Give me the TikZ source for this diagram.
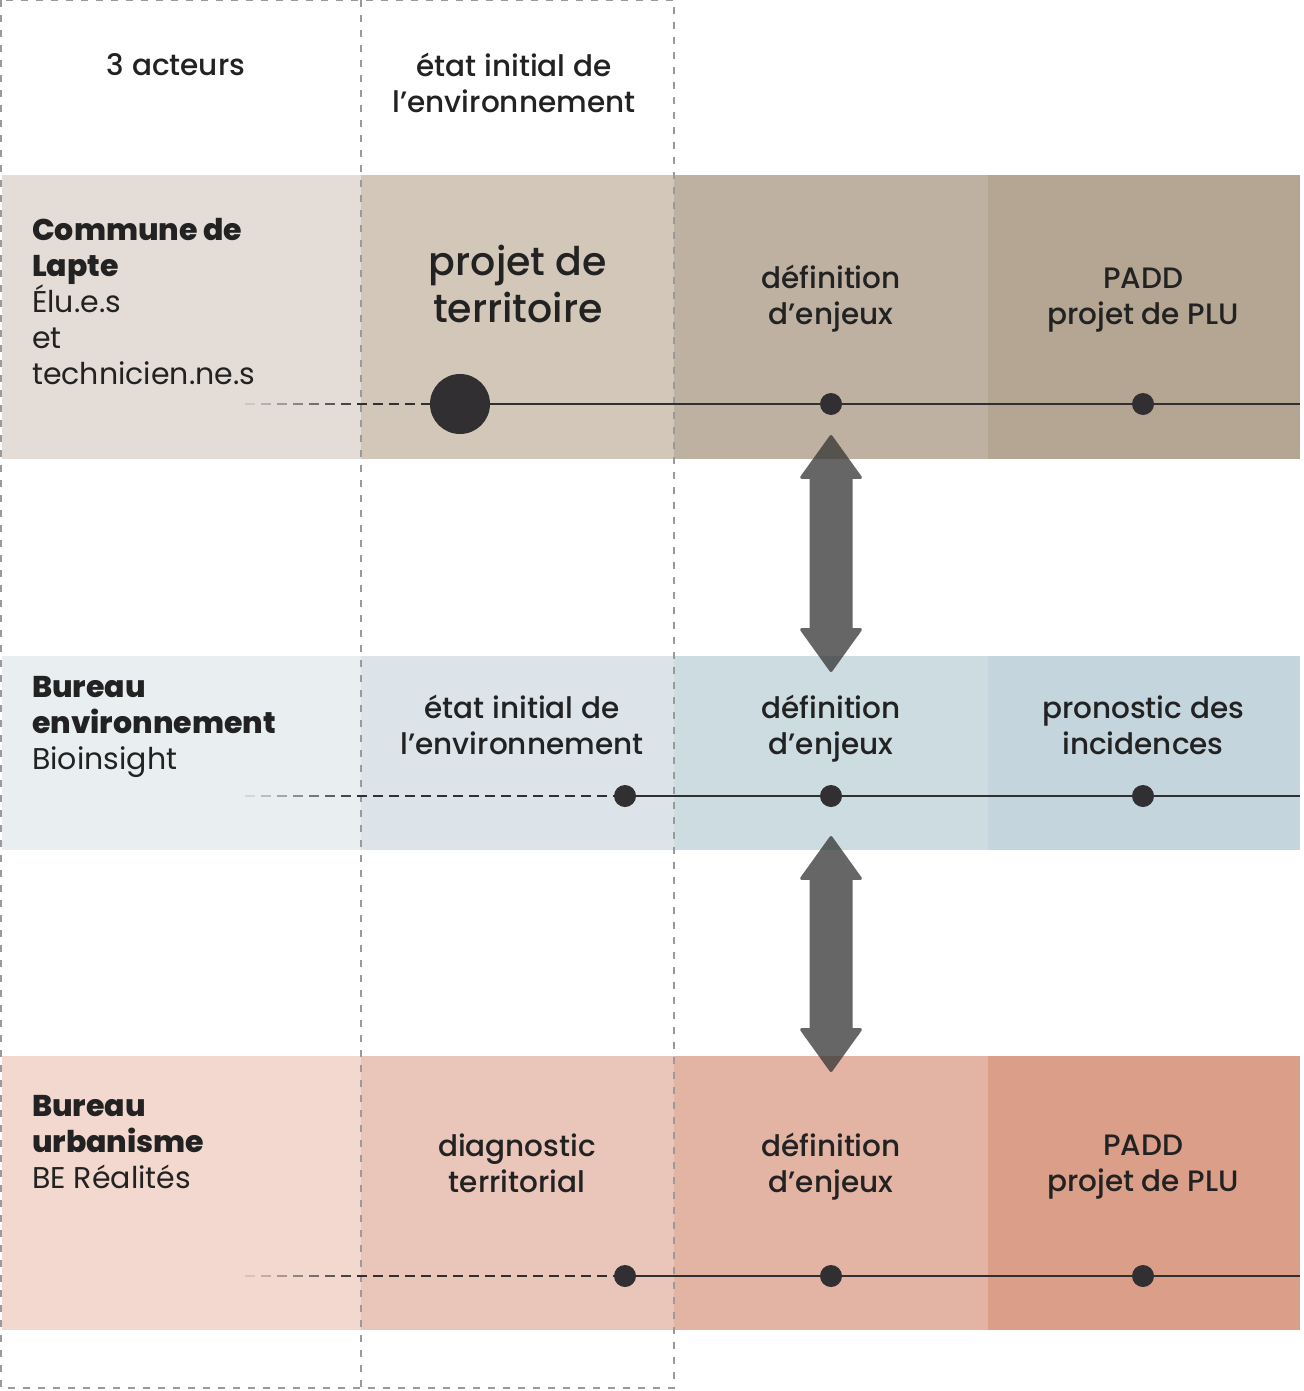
\documentclass[tikz,border=0pt]{standalone}
\usepackage{fontspec}
\setmainfont{Poppins}[BoldFont={Poppins ExtraBold}]
\newfontfamily\medfont{Poppins Medium}
\usetikzlibrary{arrows.meta,calc}

% band colours: one row per actor, darker to the right
\definecolor{ca0}{HTML}{E4DDD7}\definecolor{ca1}{HTML}{D3C7B9}
\definecolor{ca2}{HTML}{BFB1A1}\definecolor{ca3}{HTML}{B5A694}
\definecolor{cb0}{HTML}{E9EEF0}\definecolor{cb1}{HTML}{DCE4EA}
\definecolor{cb2}{HTML}{CCDCE1}\definecolor{cb3}{HTML}{C5D5DE}
\definecolor{cc0}{HTML}{F2D8CE}\definecolor{cc1}{HTML}{EAC5BA}
\definecolor{cc2}{HTML}{E3B3A3}\definecolor{cc3}{HTML}{DB9E89}
\definecolor{ink}{HTML}{222222}
\definecolor{dotc}{HTML}{312F31}
\definecolor{framec}{HTML}{9A9A9A}

\tikzset{
  band/.style={draw=none, inner sep=0pt, outer sep=0pt},
  lbl/.style={text=ink, font=\medfont\fontsize{29.5}{36}\selectfont, align=center, inner sep=0pt},
  big/.style={text=ink, font=\medfont\fontsize{39.5}{47}\selectfont, align=center, inner sep=0pt},
  actor/.style={text=ink, font=\fontsize{30}{36}\selectfont, align=left, anchor=north west, inner sep=0pt},
  frame/.style={draw=framec, line width=1.1pt, dash pattern=on 7pt off 8pt},
  tline/.style={draw=dotc, line width=1.3pt},
  dline/.style={draw=dotc, line width=1.3pt, dash pattern=on 10pt off 6pt},
  bigdot/.style={circle, fill=dotc, minimum size=60pt, inner sep=0pt},
  smalldot/.style={circle, fill=dotc, minimum size=22pt, inner sep=0pt},
  exch/.style={draw=black!80, line width=43pt,
    {Triangle[width=64pt,length=45pt,line width=3pt,round]}-{Triangle[width=64pt,length=45pt,line width=3pt,round]}},
}

% dashed lead-in that fades out to the left, starting at coordinate #1
\newcommand\leadin[1]{%
  \foreach \k in {0,...,6}{%
    \draw[dotc, line width=1.3pt, opacity={(\k+1)/8}] ($(#1)+(\k*16,0)$) -- ++(10,0);
  }}

\begin{document}
\begin{tikzpicture}[x=1pt,y=-1pt]
\useasboundingbox (0,0) rectangle (1303,1391);
\fill[white] (0,0) rectangle (1303,1391);

% ---- bands ----
% row a: Commune de Lapte
\node[band, fill=ca0, minimum width=359pt, minimum height=284pt] (a0) at (181.5,317) {};
\node[band, fill=ca1, minimum width=313pt, minimum height=284pt] (a1) at (517.5,317) {};
\node[band, fill=ca2, minimum width=314pt, minimum height=284pt] (a2) at (831,317) {};
\node[band, fill=ca3, minimum width=312pt, minimum height=284pt] (a3) at (1144,317) {};
% row b: Bureau environnement
\node[band, fill=cb0, minimum width=359pt, minimum height=194pt] (b0) at (181.5,753) {};
\node[band, fill=cb1, minimum width=313pt, minimum height=194pt] (b1) at (517.5,753) {};
\node[band, fill=cb2, minimum width=314pt, minimum height=194pt] (b2) at (831,753) {};
\node[band, fill=cb3, minimum width=312pt, minimum height=194pt] (b3) at (1144,753) {};
% row c: Bureau urbanisme
\node[band, fill=cc0, minimum width=359pt, minimum height=274pt] (c0) at (181.5,1193) {};
\node[band, fill=cc1, minimum width=313pt, minimum height=274pt] (c1) at (517.5,1193) {};
\node[band, fill=cc2, minimum width=314pt, minimum height=274pt] (c2) at (831,1193) {};
\node[band, fill=cc3, minimum width=312pt, minimum height=274pt] (c3) at (1144,1193) {};

% ---- dashed frame of the two first columns ----
\draw[frame] (1,0) -- (1,1388) -- (674,1388) -- (674,0) -- cycle;
\draw[frame] (361,0) -- (361,1388);

% ---- headers ----
\node[lbl] (h0) at (176,65) {3 acteurs};
\node[lbl] (h1) at (514,83) {état initial de\\l’environnement};

% ---- actors ----
\node[actor] (act1) at (32,218) {\textbf{Commune de}\\\textbf{Lapte}\\Élu.e.s\\et\\technicien.ne.s};
\node[actor] (act2) at (32,676) {\textbf{Bureau}\\\textbf{environnement}\\Bioinsight};
\node[actor] (act3) at (32,1095) {\textbf{Bureau}\\\textbf{urbanisme}\\BE Réalités};

% ---- stage labels ----
\node[big] (ta1) at (518,283.5) {projet de\\territoire};
\node[lbl] (ta2) at (831,298.5) {définition\\d’enjeux};
\node[lbl] (ta3) at (1143,300) {PADD\\projet de PLU};
\node[lbl] (tb1) at (522,724.5) {état initial de\\l’environnement};
\node[lbl] (tb2) at (831,728.5) {définition\\d’enjeux};
\node[lbl] (tb3) at (1143,725) {pronostic des\\incidences};
\node[lbl] (tc1) at (517,1163) {diagnostic\\territorial};
\node[lbl] (tc2) at (831,1166.5) {définition\\d’enjeux};
\node[lbl] (tc3) at (1143,1167.5) {PADD\\projet de PLU};

% ---- timelines ----
\node[bigdot] (da1) at (460,404) {};
\node[smalldot] (da2) at (831,404) {};
\node[smalldot] (da3) at (1143,404) {};
\coordinate (sa) at (245,404);
\coordinate (ma) at (357,404);
\coordinate (ea) at (1300,404);
\leadin{sa}
\draw[dline] (ma) -- (da1.west);
\draw[tline] (da1.east) -- (da2) -- (da3) -- (ea);

\node[smalldot] (db1) at (625,796) {};
\node[smalldot] (db2) at (831,796) {};
\node[smalldot] (db3) at (1143,796) {};
\coordinate (sb) at (245,796);
\coordinate (mb) at (357,796);
\coordinate (eb) at (1300,796);
\leadin{sb}
\draw[dline] (mb) -- (db1.west);
\draw[tline] (db1.east) -- (db2) -- (db3) -- (eb);

\node[smalldot] (dc1) at (625,1276) {};
\node[smalldot] (dc2) at (831,1276) {};
\node[smalldot] (dc3) at (1143,1276) {};
\coordinate (sc) at (245,1276);
\coordinate (mc) at (357,1276);
\coordinate (ec) at (1300,1276);
\leadin{sc}
\draw[dline] (mc) -- (dc1.west);
\draw[tline] (dc1.east) -- (dc2) -- (dc3) -- (ec);

% ---- exchanges between the actors ----
\coordinate (x1a) at (831,435);
\coordinate (x1b) at (831,672);
\coordinate (x2a) at (831,836);
\coordinate (x2b) at (831,1072);
\begin{scope}[transparency group, opacity=0.75]
  \draw[exch] (x1a) -- (x1b);
  \draw[exch] (x2a) -- (x2b);
\end{scope}
\end{tikzpicture}
\end{document}
